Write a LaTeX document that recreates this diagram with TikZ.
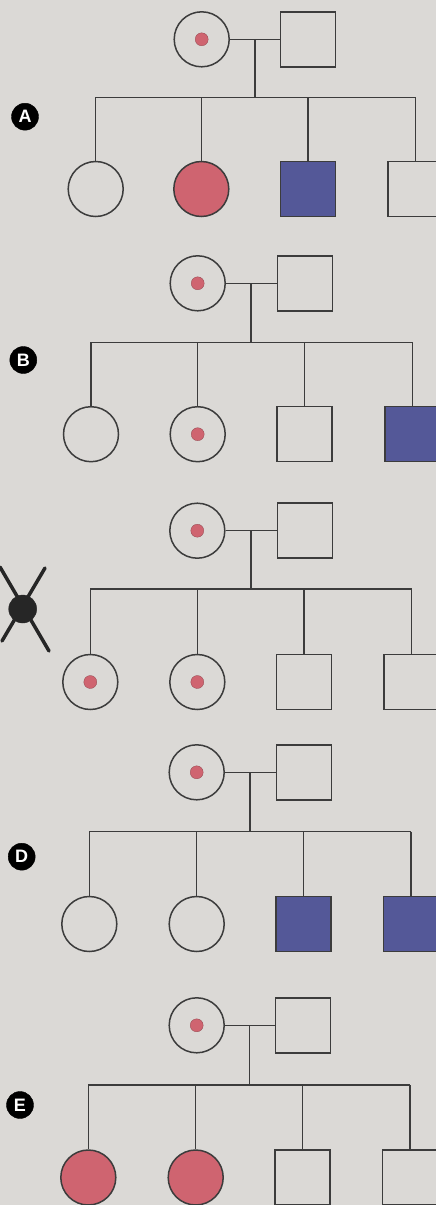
\documentclass[tikz,border=0pt]{standalone}
\usepackage{fontspec}
\newfontfamily\badgefont{Liberation Sans}
\definecolor{bgc}{HTML}{DBD9D6}
\definecolor{linec}{HTML}{3C3C3C}
\definecolor{redc}{HTML}{CF6470}
\definecolor{bluec}{HTML}{545898}
\definecolor{inkc}{HTML}{262626}
\tikzset{
  person/.style={draw=linec, line width=1.5pt, inner sep=0pt, minimum size=55pt},
  female/.style={person, circle},
  male/.style={person, rectangle},
  affF/.style={female, fill=redc},
  affM/.style={male, fill=bluec},
  carrier/.style={circle, fill=redc, draw=redc!70!black, line width=0.3pt, inner sep=0pt, minimum size=13pt},
  link/.style={draw=linec, line width=1.5pt},
  badge/.style={circle, fill=black, draw=black, inner sep=0pt, minimum size=27pt, text=white, font=\badgefont\bfseries\fontsize{18}{18}\selectfont},
  xmark/.style={draw=inkc, line width=3.5pt, line cap=round}
}
\begin{document}
\begin{tikzpicture}[x=1pt,y=-1pt]
\fill[bgc] (0,0) rectangle (436,1205);
\useasboundingbox (0,0) rectangle (436,1205);
\clip (0,0) rectangle (436,1205);
% ---------- A ----------
\node[badge] (labA) at (25,116.7) {A};
\node[female] (mA) at (201.7,39.3) {};
\node[carrier] (dA) at (mA) {};
\node[male] (fA) at (308.2,39.3) {};
\coordinate (jA) at (255,39.3);
\coordinate (sA) at (255,97.3);
\node[female] (a1) at (95.7,189) {};
\node[affF] (a2) at (201.3,189) {};
\node[affM] (a3) at (308,189) {};
\node[male] (a4) at (415.7,189) {};
\draw[link] (mA.east) -- (fA.west);
\draw[link] (jA) -- (sA);
\draw[link] (a1.north |- sA) -- (a4.north |- sA);
\foreach \c in {a1,a2,a3,a4} \draw[link] (\c.north |- sA) -- (\c.north);
% ---------- B ----------
\node[badge] (labB) at (23.3,360) {B};
\node[female] (mB) at (197.7,283.3) {};
\node[carrier] (dB) at (mB) {};
\node[male] (fB) at (304.8,283.3) {};
\coordinate (jB) at (251,283.3);
\coordinate (sB) at (251,342.3);
\node[female] (b1) at (91,434.2) {};
\node[female] (b2) at (197.7,434.2) {};
\node[carrier] (db2) at (b2) {};
\node[male] (b3) at (304.7,434.2) {};
\node[affM] (b4) at (412.3,434.2) {};
\draw[link] (mB.east) -- (fB.west);
\draw[link] (jB) -- (sB);
\draw[link] (b1.north |- sB) -- (b4.north |- sB);
\foreach \c in {b1,b2,b3,b4} \draw[link] (\c.north |- sB) -- (\c.north);
% ---------- C ----------
\node[female] (mC) at (197.3,530.7) {};
\node[carrier] (dC) at (mC) {};
\node[male] (fC) at (304.8,530.7) {};
\coordinate (jC) at (251,530.7);
\coordinate (sC) at (251,589);
\node[female] (c1) at (90.3,682) {};
\node[carrier] (dc1) at (c1) {};
\node[female] (c2) at (197.3,682) {};
\node[carrier] (dc2) at (c2) {};
\node[male] (c3) at (304,682) {};
\node[male] (c4) at (411.7,682) {};
\draw[link] (mC.east) -- (fC.west);
\draw[link] (jC) -- (sC);
\draw[link] (c1.north |- sC) -- (c4.north |- sC);
\foreach \c in {c1,c2,c3,c4} \draw[link] (\c.north |- sC) -- (\c.north);
\node[circle, fill=inkc, draw=inkc, inner sep=0pt, minimum size=28pt] (labC) at (22.7,609) {};
\coordinate (x1a) at (0,567);
\coordinate (x1b) at (49,651);
\coordinate (x2a) at (45,568);
\coordinate (x2b) at (2,641);
\draw[xmark] (x1a) -- (x1b);
\draw[xmark] (x2a) -- (x2b);
% ---------- D ----------
\node[badge] (labD) at (21.7,856.7) {D};
\node[female] (mD) at (196.7,772.3) {};
\node[carrier] (dD) at (mD) {};
\node[male] (fD) at (303.8,772.3) {};
\coordinate (jD) at (250,772.3);
\coordinate (sD) at (250,831.7);
\node[female] (d1) at (89.3,924) {};
\node[female] (d2) at (196.7,924) {};
\node[affM] (d3) at (303.3,924) {};
\node[affM] (d4) at (411,924) {};
\draw[link] (mD.east) -- (fD.west);
\draw[link] (jD) -- (sD);
\draw[link] (d1.north |- sD) -- (d4.north |- sD);
\foreach \c in {d1,d2,d3,d4} \draw[link] (\c.north |- sD) -- (\c.north);
% ---------- E ----------
\node[badge] (labE) at (20,1105) {E};
\node[female] (mE) at (196.7,1025.3) {};
\node[carrier] (dE) at (mE) {};
\node[male] (fE) at (303,1025.3) {};
\coordinate (jE) at (249.3,1025.3);
\coordinate (sE) at (249.3,1085);
\node[affF] (e1) at (88.3,1177.5) {};
\node[affF] (e2) at (195.7,1177.5) {};
\node[male] (e3) at (302.7,1177.5) {};
\node[male] (e4) at (410,1177.5) {};
\draw[link] (mE.east) -- (fE.west);
\draw[link] (jE) -- (sE);
\draw[link] (e1.north |- sE) -- (e4.north |- sE);
\foreach \c in {e1,e2,e3,e4} \draw[link] (\c.north |- sE) -- (\c.north);
\end{tikzpicture}
\end{document}
